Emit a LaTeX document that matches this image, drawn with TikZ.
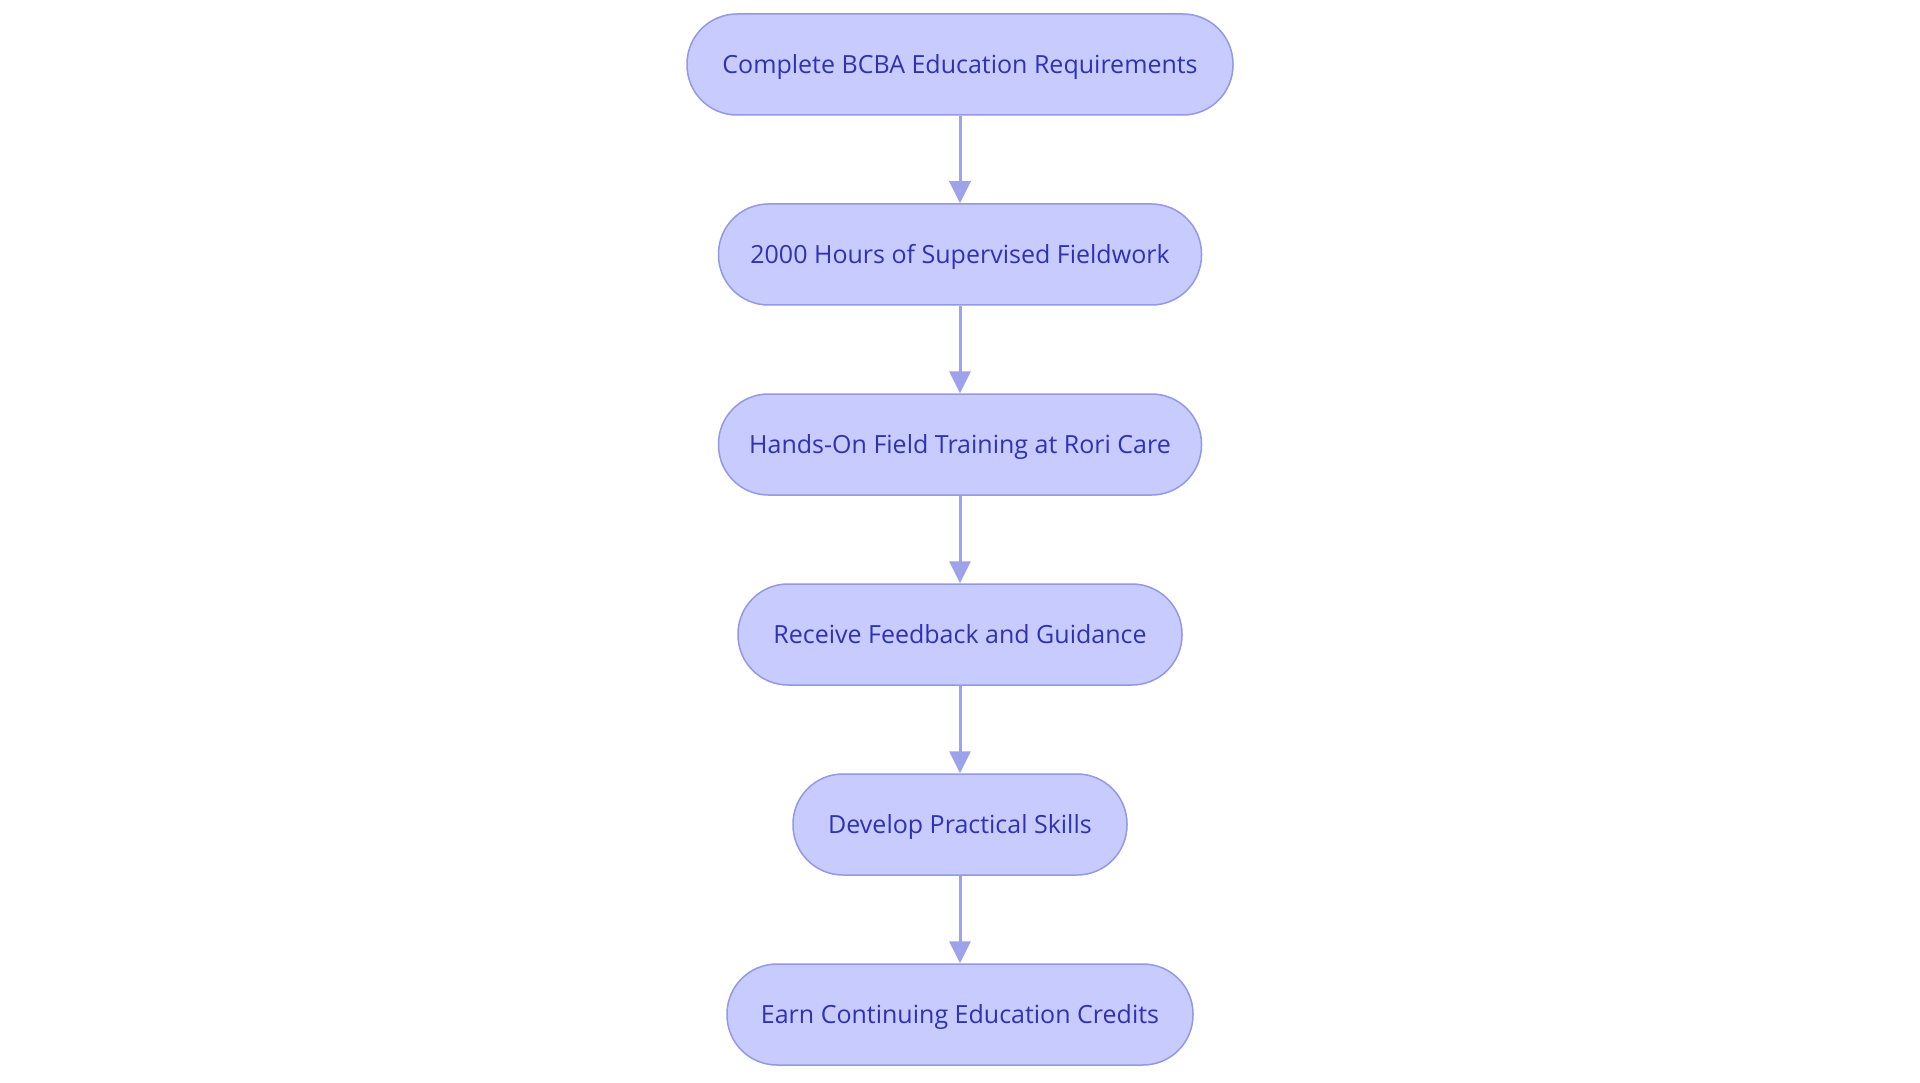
\documentclass[tikz,border=0pt]{standalone}
\usepackage{fontspec}
\setmainfont{Open Sans}
\usetikzlibrary{arrows.meta}
\definecolor{nodefill}{RGB}{200,203,254}
\definecolor{nodedraw}{RGB}{148,152,230}
\definecolor{arrowcol}{RGB}{158,162,234}
\definecolor{textcol}{RGB}{47,50,178}
\tikzset{
  stepbox/.style={draw=nodedraw, fill=nodefill, line width=1.5pt,
    rounded corners=50pt, minimum height=101pt, inner sep=0pt,
    text height=22pt, text depth=4pt,
    text=textcol, font=\fontsize{25pt}{29pt}\selectfont},
  flow/.style={draw=arrowcol, line width=3pt,
    -{Triangle[width=21pt,length=22pt,fill=arrowcol]}, shorten >=0pt}
}
\begin{document}
\begin{tikzpicture}[x=1pt,y=-1pt]
\useasboundingbox[fill=white] (0,0) rectangle (1920,1083);
\node[stepbox, minimum width=546pt] (n1) at (960,64.5) {Complete BCBA Education Requirements};
\node[stepbox, minimum width=483pt] (n2) at (960,254.5) {2000 Hours of Supervised Fieldwork};
\node[stepbox, minimum width=483pt] (n3) at (960,444.5) {Hands-On Field Training at Rori Care};
\node[stepbox, minimum width=444pt] (n4) at (960,634.5) {Receive Feedback and Guidance};
\node[stepbox, minimum width=334pt] (n5) at (960,824.5) {Develop Practical Skills};
\node[stepbox, minimum width=466pt] (n6) at (960,1014.5) {Earn Continuing Education Credits};
\draw[flow] (n1) -- (n2);
\draw[flow] (n2) -- (n3);
\draw[flow] (n3) -- (n4);
\draw[flow] (n4) -- (n5);
\draw[flow] (n5) -- (n6);
\end{tikzpicture}
\end{document}
